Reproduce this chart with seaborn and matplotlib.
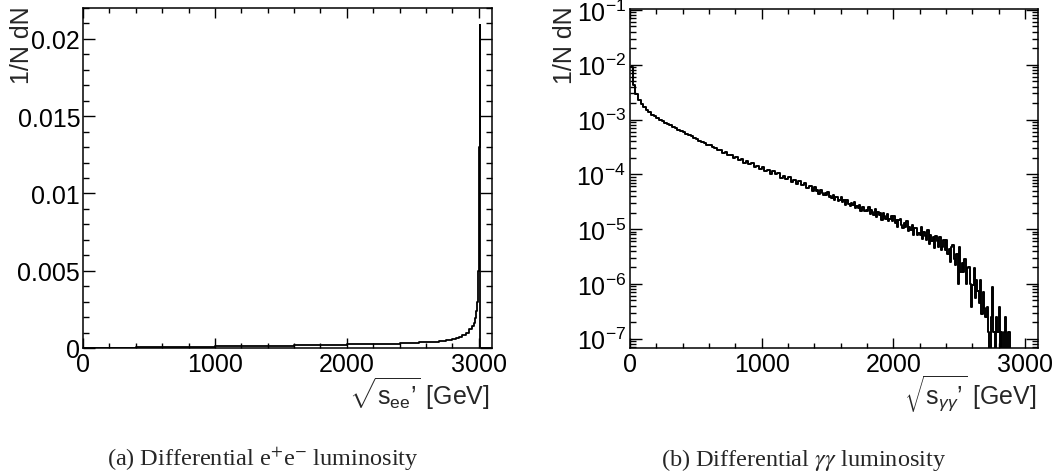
import numpy as np
import matplotlib
matplotlib.use("Agg")
import matplotlib.pyplot as plt
import seaborn as sns
from matplotlib.ticker import MultipleLocator, LogLocator, NullFormatter

# ---- e+e- luminosity spectrum: bin edges [GeV] and 1/N dN per bin ----
ee_edges = [0, 100, 200, 300, 400, 500, 600, 700, 800, 900, 1000,
            1100, 1200, 1300, 1400, 1500, 1600, 1700, 1800, 1900, 2000,
            2100, 2200, 2300, 2400, 2500,
            2550, 2600, 2650, 2700, 2750, 2800,
            2825, 2850, 2875, 2900, 2925, 2950,
            2960, 2970, 2980, 2990,
            2992, 2994, 2996, 2998, 3000, 3002, 3004, 3006, 3008, 3010,
            3100]
ee_lumi = [1.5e-5, 2.0e-5, 2.5e-5, 3.0e-5, 3.8e-5, 5.0e-5, 5.8e-5, 7.0e-5, 8.0e-5, 9.0e-5,
           1.0e-4, 1.1e-4, 1.2e-4, 1.3e-4, 1.4e-4, 1.5e-4, 1.65e-4, 1.8e-4, 2.0e-4, 2.2e-4,
           2.35e-4, 2.5e-4, 2.65e-4, 2.85e-4, 3.1e-4,
           3.4e-4, 3.6e-4, 3.9e-4, 4.2e-4, 4.7e-4, 5.3e-4,
           6.0e-4, 6.6e-4, 7.4e-4, 8.5e-4, 1.0e-3, 1.25e-3,
           1.45e-3, 1.65e-3, 1.95e-3, 2.4e-3,
           3.0e-3, 3.5e-3, 4.2e-3, 5.0e-3, 6.2e-3, 7.8e-3, 1.0e-2, 1.3e-2, 1.7e-2, 2.09e-2,
           0.0]

# ---- gamma-gamma luminosity spectrum, 1/N dN per bin ----
# 20 GeV bins from 0 to 1400 GeV
gg_coarse_width = 20
gg_lumi_coarse = [
    8.9e-3, 4.2e-3, 2.9e-3, 2.3e-3, 1.9e-3, 1.66e-3, 1.48e-3, 1.35e-3, 1.23e-3, 1.14e-3,
    1.06e-3, 9.9e-4, 9.3e-4, 8.75e-4, 8.2e-4, 7.8e-4, 7.3e-4, 6.9e-4, 6.5e-4, 6.2e-4,
    5.8e-4, 5.5e-4, 5.2e-4, 4.9e-4, 4.6e-4, 4.37e-4, 4.1e-4, 3.9e-4, 3.67e-4, 3.47e-4,
    3.39e-4, 3.09e-4, 3.05e-4, 2.72e-4, 2.75e-4, 2.48e-4, 2.54e-4, 2.27e-4, 2.24e-4, 2.0e-4,
    2.09e-4, 1.84e-4, 1.88e-4, 1.64e-4, 1.74e-4, 1.55e-4, 1.6e-4, 1.38e-4, 1.41e-4, 1.25e-4,
    1.35e-4, 1.16e-4, 1.22e-4, 1.03e-4, 1.13e-4, 1.0e-4, 1.05e-4, 8.7e-5, 9.3e-5, 8.1e-5,
    8.8e-5, 7.3e-5, 7.85e-5, 6.55e-5, 7.4e-5, 6.3e-5, 6.9e-5, 5.6e-5, 6.0e-5, 4.95e-5,
]
# 10 GeV bins from 1400 to 2900 GeV
gg_fine_start = 1400
gg_fine_width = 10
gg_lumi_fine = [
    5.82e-5, 4.90e-5, 5.19e-5, 4.42e-5, 5.19e-5, 5.25e-5, 4.47e-5, 4.12e-5, 4.62e-5, 4.22e-5,
    4.79e-5, 3.78e-5, 4.10e-5, 3.77e-5, 4.24e-5, 3.35e-5, 3.87e-5, 3.89e-5, 3.31e-5, 3.46e-5,
    3.83e-5, 3.13e-5, 3.37e-5, 2.79e-5, 3.40e-5, 3.46e-5, 2.86e-5, 2.61e-5, 3.01e-5, 2.71e-5,
    3.16e-5, 2.40e-5, 2.65e-5, 2.41e-5, 2.78e-5, 2.11e-5, 2.51e-5, 2.54e-5, 2.11e-5, 2.23e-5,
    2.11e-5, 2.51e-5, 1.87e-5, 2.25e-5, 2.04e-5, 1.81e-5, 2.30e-5, 1.66e-5, 2.07e-5, 1.78e-5,
    1.94e-5, 1.47e-5, 1.96e-5, 1.75e-5, 1.51e-5, 1.91e-5, 1.40e-5, 1.50e-5, 1.77e-5, 1.39e-5,
    1.72e-5, 1.28e-5, 1.45e-5, 1.10e-5, 1.49e-5, 1.55e-5, 1.18e-5, 1.04e-5, 1.29e-5, 1.11e-5,
    1.43e-5, 9.38e-6, 1.10e-5, 9.51e-6, 1.19e-5, 7.83e-6, 1.03e-5, 1.05e-5, 7.91e-6, 8.63e-6,
    7.89e-6, 1.07e-5, 6.47e-6, 8.99e-6, 7.60e-6, 6.25e-6, 9.44e-6, 5.42e-6, 7.96e-6, 6.19e-6,
    7.21e-6, 4.44e-6, 7.41e-6, 6.10e-6, 4.70e-6, 7.13e-6, 4.11e-6, 4.67e-6, 6.22e-6, 4.08e-6,
    6.21e-6, 3.44e-6, 4.38e-6, 2.53e-6, 4.67e-6, 5.02e-6, 2.90e-6, 2.24e-6, 3.51e-6, 1.0e-6,
    4.71e-6, 1.64e-6, 2.40e-6, 1.66e-6, 2.90e-6, 1.0e-6, 1.97e-6, 2.04e-6, 1.0e-6, 3.8e-7,
    9.66e-7, 1.97e-6, 5.43e-7, 1.19e-6, 7.50e-7, 4.42e-7, 1.19e-6, 2.85e-7, 7.16e-7, 3.67e-7,
    2.5e-7, 3.8e-7, 1.3e-7, 0.0, 2.5e-7, 8.8e-7, 1.3e-7, 0.0, 2.5e-7, 1.3e-7,
    3.8e-7, 0.0, 1.3e-7, 0.0, 1.3e-7, 2.5e-7, 0.0, 1.3e-7, 1.3e-7, 0.0,
]
gg_edges = ([i * gg_coarse_width for i in range(len(gg_lumi_coarse))]
            + [gg_fine_start + i * gg_fine_width for i in range(len(gg_lumi_fine) + 1)])
gg_lumi = gg_lumi_coarse + gg_lumi_fine

x_ticks = [0, 1000, 2000, 3000]
x_tick_labels = ["0", "1000", "2000", "3000"]
ee_y_ticks = [0, 0.005, 0.01, 0.015, 0.02]
ee_y_tick_labels = ["0", "0.005", "0.01", "0.015", "0.02"]

y_title = "1/N dN"
ee_x_title = r"$\sqrt{\mathrm{s}_{\mathrm{ee}}\mathrm{’}}$ [GeV]"
gg_x_title = r"$\sqrt{\mathrm{s}_{\gamma\gamma}\mathrm{’}}$ [GeV]"
caption_a = r"(a) Differential e$^{+}$e$^{-}$ luminosity"
caption_b = r"(b) Differential $\gamma\gamma$ luminosity"

sns.set_theme(style="ticks")
plt.rcParams.update({
    "font.family": ["Liberation Sans", "DejaVu Sans"],
    "mathtext.fontset": "custom",
    "mathtext.rm": "Liberation Sans",
    "mathtext.it": "Liberation Sans:italic",
    "mathtext.bf": "Liberation Sans:bold",
    "mathtext.sf": "Liberation Sans",
    "axes.linewidth": 1.1,
    "axes.edgecolor": "black",
    "axes.facecolor": "white",
    "figure.facecolor": "white",
    "axes.grid": False,
})

W, H = 1056, 477
fig = plt.figure(figsize=(W / 100, H / 100), dpi=100)
ax1 = fig.add_axes([83 / W, 1 - 349 / H, 409 / W, 340 / H])
ax2 = fig.add_axes([630 / W, 1 - 349 / H, 408 / W, 339 / H])


def draw_hist(ax, edges, heights, lw):
    edges = [float(e) for e in edges]
    centers = [0.5 * (a + b) for a, b in zip(edges[:-1], edges[1:])]
    sns.histplot(x=centers, weights=heights, bins=edges, element="step",
                 fill=False, color="black", linewidth=lw, ax=ax)
    ax.set_xlabel("")
    ax.set_ylabel("")


draw_hist(ax1, ee_edges, ee_lumi, 1.3)
draw_hist(ax2, gg_edges, gg_lumi, 1.4)

for ax in (ax1, ax2):
    ax.set_xlim(0, 3100)
    ax.set_xticks(x_ticks, x_tick_labels)
    ax.xaxis.set_minor_locator(MultipleLocator(200))
    for s in ax.spines.values():
        s.set_visible(True)
        s.set_color("black")
        s.set_linewidth(1.1)
    ax.tick_params(which="both", direction="in", top=True, right=True,
                   colors="black", labelsize=18, width=1.0)
    ax.tick_params(axis="x", which="major", length=7, pad=3)
    ax.tick_params(axis="x", which="minor", length=3.5)
    ax.tick_params(axis="y", which="major", length=8.5, pad=2)
    ax.tick_params(axis="y", which="minor", length=4.2)

# linear e+e- panel
ax1.set_ylim(0, 0.022)
ax1.set_yticks(ee_y_ticks, ee_y_tick_labels)
ax1.yaxis.set_minor_locator(MultipleLocator(0.001))

# logarithmic gamma-gamma panel
ax2.set_yscale("log")
ax2.set_ylim(6.76e-8, 0.104)
ax2.yaxis.set_major_locator(LogLocator(base=10, numticks=20))
ax2.yaxis.set_minor_locator(LogLocator(base=10, subs=np.arange(2, 10), numticks=20))
ax2.yaxis.set_minor_formatter(NullFormatter())
ax2.tick_params(axis="y", which="major", pad=3)

# axis titles, ROOT-style: y title at the top, x title at the right end
fig.text(22 / W, 1 - 6 / H, y_title, rotation=90, ha="center", va="top", fontsize=18)
fig.text(565 / W, 1 - 6 / H, y_title, rotation=90, ha="center", va="top", fontsize=18)
fig.text(490 / W, 1 - 405 / H, ee_x_title, ha="right", va="baseline", fontsize=18)
fig.text(1036 / W, 1 - 405 / H, gg_x_title, ha="right", va="baseline", fontsize=18)

# sub-figure captions
fig.text(263 / W, 1 - 466 / H, caption_a, ha="center", va="baseline", fontsize=17.5,
         fontfamily="Liberation Serif", math_fontfamily="stix")
fig.text(804 / W, 1 - 466 / H, caption_b, ha="center", va="baseline", fontsize=17.5,
         fontfamily="Liberation Serif", math_fontfamily="stix")

fig.savefig("out.png", dpi=100)
